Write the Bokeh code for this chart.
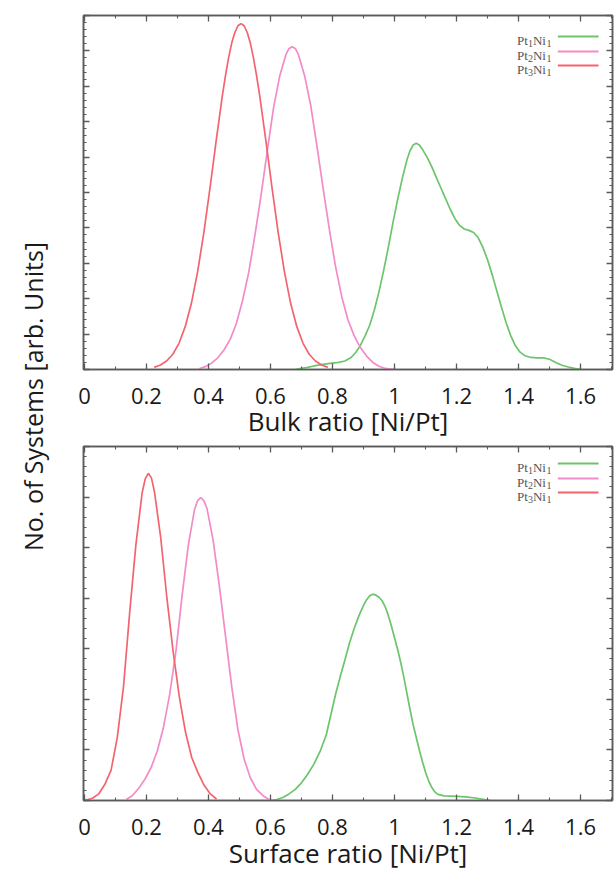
import math
from bokeh.plotting import figure
from bokeh.layouts import row, column
from bokeh.models import Range1d, LinearAxis, FixedTicker, Label, Arrow, CustomLabelingPolicy
from bokeh.embed import file_html
from bokeh.resources import INLINE

# ---------------- data ----------------
X_TICKS = [0, 0.2, 0.4, 0.6, 0.8, 1.0, 1.2, 1.4, 1.6]
X_TICK_LABELS = ["0", "0.2", "0.4", "0.6", "0.8", "1", "1.2", "1.4", "1.6"]
SERIES_BASE = [("Pt", "1", "Ni", "1"), ("Pt", "2", "Ni", "1"), ("Pt", "3", "Ni", "1")]
COLORS = ["#6cc46c", "#f38bc7", "#f3646f"]
X_LABELS = ["Bulk ratio [Ni/Pt]", "Surface ratio [Ni/Pt]"]
Y_LABEL = "No. of Systems [arb. Units]"

# Bulk ratio panel
bulk_pt1ni1_x = [0.68, 0.70, 0.72, 0.74, 0.76, 0.78, 0.80, 0.82, 0.84, 0.86, 0.875, 0.89, 0.905,
                 0.92, 0.935, 0.95, 0.965, 0.98, 0.995, 1.01, 1.025, 1.04, 1.05, 1.06, 1.07,
                 1.08, 1.09, 1.105, 1.12, 1.135, 1.15, 1.165, 1.18, 1.195, 1.21, 1.225, 1.24,
                 1.255, 1.27, 1.285, 1.30, 1.315, 1.33, 1.345, 1.36, 1.375, 1.39, 1.405, 1.42,
                 1.44, 1.46, 1.48, 1.50, 1.52, 1.54, 1.56, 1.58, 1.60]
bulk_pt1ni1_y = [0.0, 0.03, 0.06, 0.10, 0.13, 0.16, 0.18, 0.20, 0.24, 0.34, 0.48, 0.68, 0.95,
                 1.25, 1.68, 2.20, 2.80, 3.45, 4.15, 4.80, 5.40, 5.92, 6.18, 6.34, 6.39,
                 6.34, 6.22, 6.00, 5.73, 5.42, 5.12, 4.82, 4.52, 4.26, 4.07, 3.97, 3.93,
                 3.87, 3.72, 3.45, 3.10, 2.68, 2.22, 1.76, 1.32, 0.95, 0.67, 0.49, 0.39,
                 0.34, 0.33, 0.33, 0.29, 0.20, 0.12, 0.07, 0.03, 0.0]
bulk_pt2ni1_x = [0.37, 0.39, 0.41, 0.43, 0.45, 0.47, 0.49, 0.51, 0.53, 0.55, 0.57, 0.59, 0.61,
                 0.63, 0.65, 0.66, 0.67, 0.68, 0.69, 0.71, 0.73, 0.75, 0.77, 0.79, 0.81, 0.83,
                 0.85, 0.87, 0.89, 0.91, 0.93, 0.95, 0.97, 1.0]
bulk_pt2ni1_y = [0.02, 0.08, 0.18, 0.33, 0.55, 0.85, 1.30, 1.95, 2.75, 3.80, 4.95, 6.20, 7.40,
                 8.30, 8.90, 9.07, 9.12, 9.07, 8.90, 8.30, 7.45, 6.30, 5.10, 3.95, 2.90, 2.05,
                 1.40, 0.95, 0.62, 0.38, 0.20, 0.09, 0.03, 0.0]
bulk_pt3ni1_x = [0.225, 0.245, 0.265, 0.285, 0.305, 0.325, 0.345, 0.365, 0.385, 0.405, 0.425,
                 0.445, 0.455, 0.465, 0.475, 0.485, 0.495, 0.505, 0.515, 0.525, 0.535, 0.545,
                 0.555, 0.565, 0.585, 0.605, 0.625, 0.645, 0.665, 0.685, 0.705, 0.725, 0.745,
                 0.765, 0.785]
bulk_pt3ni1_y = [0.06, 0.125, 0.24, 0.43, 0.74, 1.21, 1.87, 2.76, 3.86, 5.13, 6.47,
                 7.75, 8.31, 8.81, 9.22, 9.52, 9.71, 9.77, 9.71, 9.52, 9.22, 8.81,
                 8.31, 7.75, 6.47, 5.13, 3.86, 2.76, 1.87, 1.21, 0.74, 0.43, 0.24,
                 0.125, 0.06]

# Surface ratio panel
surf_pt1ni1_x = [0.60, 0.62, 0.64, 0.66, 0.68, 0.70, 0.72, 0.74, 0.76, 0.78, 0.795, 0.81, 0.825,
                 0.84, 0.855, 0.87, 0.885, 0.90, 0.91, 0.92, 0.93, 0.94, 0.95, 0.96, 0.97,
                 0.98, 0.99, 1.00, 1.01, 1.02, 1.03, 1.04, 1.05, 1.06, 1.07, 1.08, 1.09, 1.10,
                 1.11, 1.12, 1.13, 1.14, 1.16, 1.20, 1.23, 1.26, 1.29, 1.31]
surf_pt1ni1_y = [0.0, 0.02, 0.06, 0.13, 0.22, 0.35, 0.52, 0.72, 0.97, 1.30, 1.70, 2.10, 2.45,
                 2.78, 3.12, 3.40, 3.65, 3.86, 3.97, 4.05, 4.08, 4.06, 4.02, 3.95, 3.83,
                 3.66, 3.45, 3.22, 2.99, 2.73, 2.44, 2.12, 1.80, 1.50, 1.25, 1.00, 0.77, 0.56,
                 0.39, 0.26, 0.17, 0.12, 0.09, 0.08, 0.07, 0.05, 0.02, 0.0]
surf_pt2ni1_x = [0.135, 0.155, 0.175, 0.195, 0.215, 0.235, 0.255, 0.275, 0.295, 0.315, 0.335,
                 0.355, 0.365, 0.375, 0.385, 0.395, 0.415, 0.435, 0.455, 0.475, 0.495, 0.515,
                 0.535, 0.555, 0.575, 0.595]
surf_pt2ni1_y = [0.02, 0.10, 0.24, 0.42, 0.65, 0.98, 1.45, 2.10, 2.95, 4.05, 5.05,
                 5.75, 5.93, 5.99, 5.93, 5.78, 5.15, 4.25, 3.25, 2.25, 1.40, 0.82,
                 0.45, 0.22, 0.10, 0.02]
surf_pt3ni1_x = [0.0, 0.026, 0.046, 0.066, 0.086, 0.106, 0.126, 0.146, 0.166, 0.186, 0.196,
                 0.206, 0.216, 0.226, 0.246, 0.266, 0.286, 0.306, 0.326, 0.346, 0.366, 0.386,
                 0.406, 0.426]
surf_pt3ni1_y = [0.0, 0.045, 0.13, 0.32, 0.60, 1.25, 2.25, 3.72, 5.06, 6.08, 6.36,
                 6.47, 6.38, 6.10, 5.20, 4.00, 2.95, 2.05, 1.35, 0.85, 0.55, 0.30,
                 0.13, 0.03]

# ---------------- styling ----------------
FONT = "Open Sans"
FRAME_COLOR = "#5a5a5a"
TEXT_COLOR = "#1a1a1a"
X_START, X_END = -0.003, 1.703
FRAME_W, FRAME_H = 532, 354
NO_LABELS = "for (const i of indices) { indices.unset(i) }\nreturn indices"


def make_panel(curves, y_max, xlabel, height, border_top, border_bottom,
               label_standoff, axis_label_standoff, legend_rows_px):
    p = figure(width=558, height=height, x_range=Range1d(X_START, X_END),
               y_range=Range1d(0, y_max), toolbar_location=None, output_backend="svg",
               min_border_left=25, min_border_right=1, min_border_top=border_top,
               min_border_bottom=border_bottom, outline_line_color=FRAME_COLOR,
               outline_line_width=1.5, background_fill_color="white")
    p.grid.visible = False
    px_per_x = FRAME_W / (X_END - X_START)
    px_per_y = FRAME_H / y_max

    xticker = FixedTicker(ticks=X_TICKS, minor_ticks=[round(0.1 * i, 1) for i in range(18)])
    yticker = FixedTicker(ticks=list(range(0, int(y_max) + 1)),
                          minor_ticks=[round(0.2 * i, 1) for i in range(int(y_max) * 5 + 1)])

    xa = p.xaxis[0]
    xa.ticker = xticker
    xa.major_label_overrides = {t: l for t, l in zip(X_TICKS, X_TICK_LABELS)}
    xa.major_label_text_font = FONT
    xa.major_label_text_font_size = "22px"
    xa.major_label_text_color = TEXT_COLOR
    xa.major_label_standoff = label_standoff
    xa.axis_label = xlabel
    xa.axis_label_text_font = FONT
    xa.axis_label_text_font_size = "26px"
    xa.axis_label_text_font_style = "normal"
    xa.axis_label_text_color = TEXT_COLOR
    xa.axis_label_standoff = axis_label_standoff

    ya = p.yaxis[0]
    ya.ticker = yticker
    top_ax = LinearAxis(ticker=xticker)
    right_ax = LinearAxis(ticker=yticker)
    p.add_layout(top_ax, "above")
    p.add_layout(right_ax, "right")
    for ax in [ya, top_ax, right_ax]:
        ax.major_label_policy = CustomLabelingPolicy(code=NO_LABELS)
        ax.major_label_text_font_size = "1px"
        ax.major_label_standoff = 0

    for ax in [xa, ya, top_ax, right_ax]:
        ax.axis_line_color = FRAME_COLOR
        ax.axis_line_width = 1.5
        ax.major_tick_in = 6
        ax.major_tick_out = 0
        ax.minor_tick_in = 3
        ax.minor_tick_out = 0
        ax.major_tick_line_color = FRAME_COLOR
        ax.minor_tick_line_color = FRAME_COLOR
        ax.major_tick_line_width = 1.3
        ax.minor_tick_line_width = 1.1

    for (xs, ys), color in zip(curves, COLORS):
        p.line(xs, ys, line_color=color, line_width=1.7)

    # legend: label on the left, sample line on the right
    right_px = 62
    for parts, color, dy in zip(SERIES_BASE, COLORS, legend_rows_px):
        yv = y_max - dy / px_per_y
        base = yv - 4 / px_per_y
        sub = yv - 7 / px_per_y
        start_px = right_px + 34
        pieces = [(parts[0], 0, base, "13px"), (parts[1], 11, sub, "10px"),
                  (parts[2], 16, base, "13px"), (parts[3], 29.5, sub, "10px")]
        for txt, off, yy, fs in pieces:
            p.add_layout(Label(x=X_END - (start_px - off) / px_per_x, y=yy, text=txt,
                               text_align="left", text_baseline="alphabetic",
                               text_font="Liberation Serif", text_font_size=fs,
                               text_color="#555555"))
        p.add_layout(Arrow(start=None, end=None, x_start=X_END - 55 / px_per_x, y_start=yv,
                           x_end=X_END - 14 / px_per_x, y_end=yv, line_color=color,
                           line_width=2))
    return p


top = make_panel([(bulk_pt1ni1_x, bulk_pt1ni1_y), (bulk_pt2ni1_x, bulk_pt2ni1_y),
                  (bulk_pt3ni1_x, bulk_pt3ni1_y)], 10, X_LABELS[0],
                 442, 15, 73, 18, -4, [21, 36, 50])
bottom = make_panel([(surf_pt1ni1_x, surf_pt1ni1_y), (surf_pt2ni1_x, surf_pt2ni1_y),
                     (surf_pt3ni1_x, surf_pt3ni1_y)], 7, X_LABELS[1],
                    433, 0, 75, 18, -3, [17, 32, 46])

ylab = figure(width=58, height=875, x_range=Range1d(0, 1), y_range=Range1d(0, 1),
              toolbar_location=None, output_backend="svg", min_border=0,
              outline_line_color=None)
ylab.axis.visible = False
ylab.grid.visible = False
ylab.add_layout(Label(x=0.552, y=0.5474, text=Y_LABEL, angle=math.pi / 2,
                      text_align="center", text_baseline="middle", text_font=FONT,
                      text_font_size="25px", text_color=TEXT_COLOR))

layout = row(ylab, column(top, bottom))
open("out.html", "w").write(file_html(layout, INLINE))
